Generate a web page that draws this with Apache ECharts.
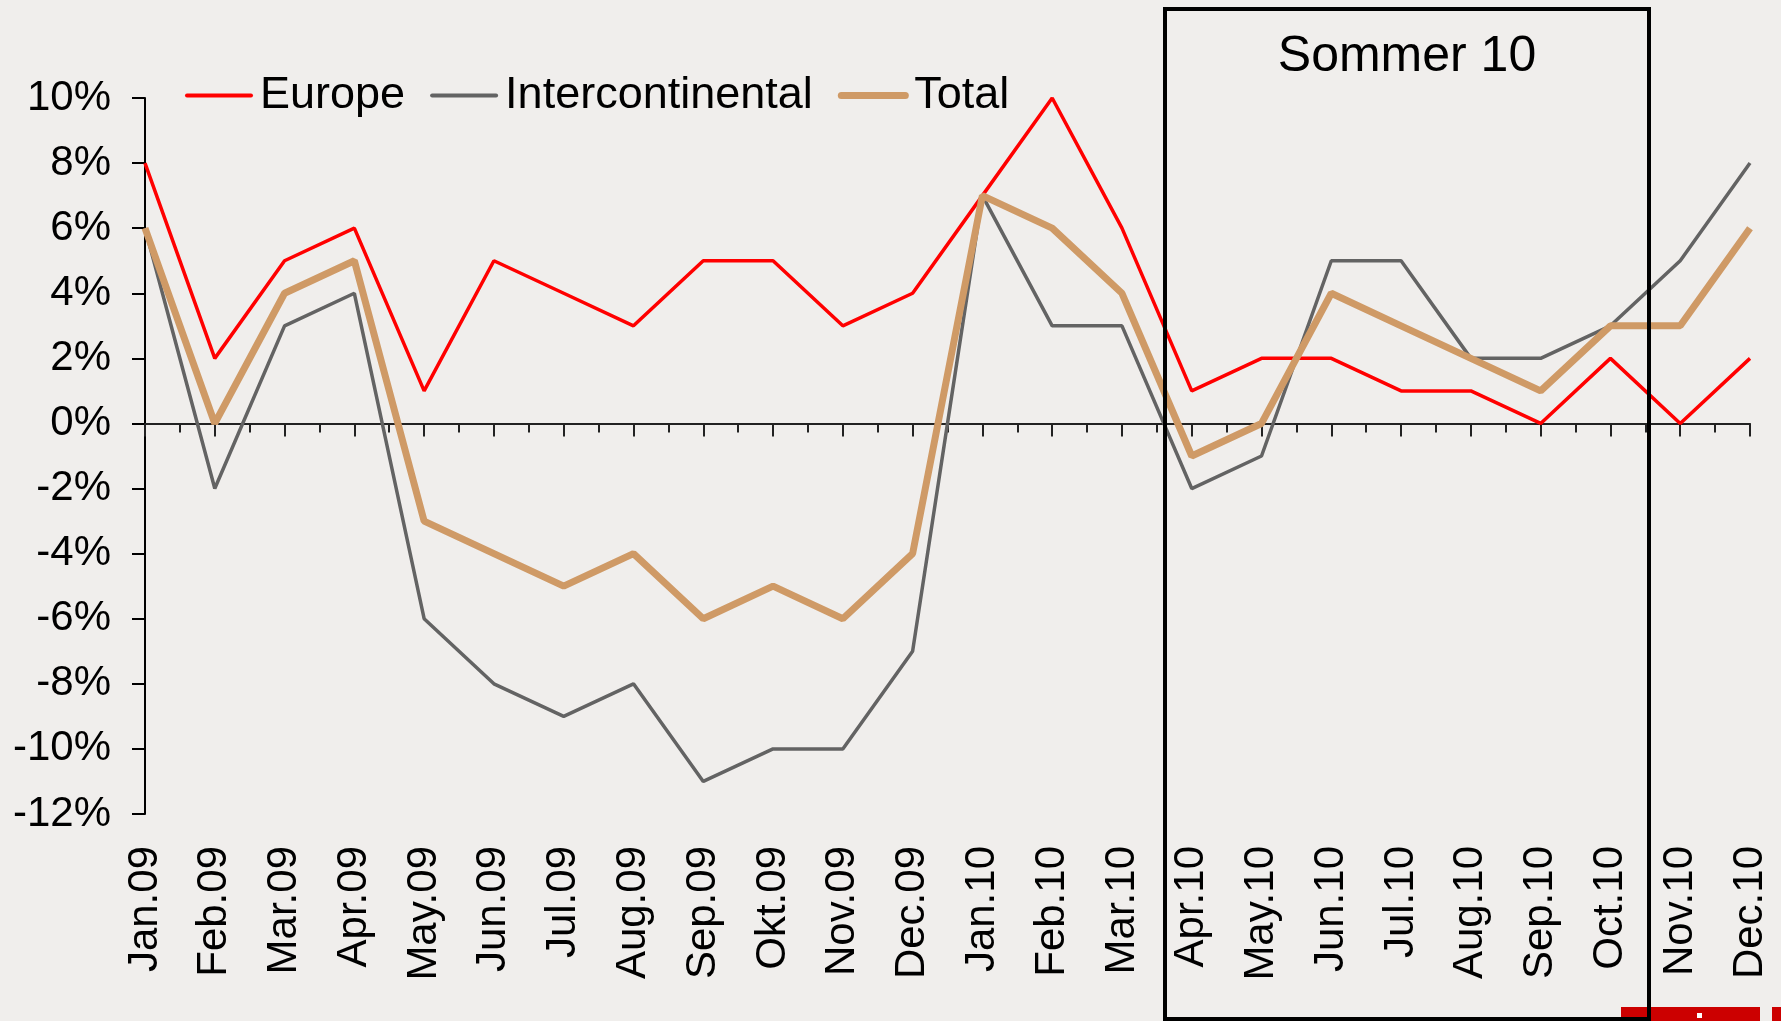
<!DOCTYPE html>
<html>
	<head>
		<meta charset="UTF-8">
		<title></title>
		<style>
			html,body{margin:0;padding:0;background:#F0EEEC;}
			#box{width:1781px;height:1021px;}
		</style>
	</head>
	<body>
		<div id="box"></div>
		<script type="text/javascript" src="https://cdn.jsdelivr.net/npm/echarts@6/dist/echarts.min.js"></script>
		<script type="text/javascript">
			// monthly change in %
			var months=['Jan.09','Feb.09','Mar.09','Apr.09','May.09','Jun.09','Jul.09','Aug.09','Sep.09','Okt.09','Nov.09','Dec.09',
				'Jan.10','Feb.10','Mar.10','Apr.10','May.10','Jun.10','Jul.10','Aug.10','Sep.10','Oct.10','Nov.10','Dec.10'];
			var europe=[8,2,5,6,1,5,4,3,5,5,3,4,7,10,6,1,2,2,1,1,0,2,0,2];
			var interc=[6,-2,3,4,-6,-8,-9,-8,-11,-10,-10,-7,7,3,3,-2,-1,5,5,2,2,3,5,8];
			var total=[6,0,4,5,-3,-4,-5,-4,-6,-5,-6,-4,7,6,4,-1,0,4,3,2,1,3,3,6];
			var yTicks=[-12,-10,-8,-6,-4,-2,0,2,4,6,8,10];
			var boxLabel='Sommer 10';

			var font='"Liberation Sans", Arial, Helvetica, sans-serif';
			var box=document.getElementById('box');
			var myechart=echarts.init(box);

			var option={
				backgroundColor:'#F0EEEC',
				textStyle:{fontFamily:font,color:'#000'},
				legend:{
					left:180,
					top:68,
					itemWidth:64,
					itemHeight:14,
					itemGap:25,
					itemStyle:{opacity:0},
					lineStyle:{cap:'round'},
					textStyle:{fontSize:45,color:'#000',fontFamily:font,padding:[0,0,0,4]},
					data:[
						{name:'Europe',lineStyle:{width:4,cap:'round'}},
						{name:'Intercontinental',lineStyle:{width:4,cap:'round'}},
						{name:'Total',lineStyle:{width:7,cap:'round'}}
					]
				},
				grid:{left:145,right:31,top:98,bottom:207,containLabel:false,outerBoundsMode:'none'},
				xAxis:[{
					type:'category',
					data:months,
					boundaryGap:false,
					position:'bottom',
					axisLine:{show:false,onZero:false},
					axisTick:{show:false},
					axisLabel:{rotate:90,fontSize:42,margin:32,color:'#000',fontFamily:font,interval:0}
				},{
					// zero line with ticks at months and half months (top slot, so inside = downward)
					type:'value',
					position:'top',
					min:0,
					max:months.length-1,
					interval:1,
					axisLine:{show:true,onZero:true,onZeroAxisIndex:0,lineStyle:{color:'#222',width:2}},
					axisTick:{show:true,inside:true,length:13,lineStyle:{color:'#222',width:2}},
					minorTick:{show:true,splitNumber:2,length:9,lineStyle:{color:'#222',width:2}},
					axisLabel:{show:false},
					splitLine:{show:false}
				}],
				yAxis:{
					type:'value',
					min:yTicks[0],
					max:yTicks[yTicks.length-1],
					interval:2,
					axisLine:{show:true,onZero:false,lineStyle:{color:'#000',width:2}},
					axisTick:{show:true,length:13,lineStyle:{color:'#000',width:2}},
					axisLabel:{fontSize:42,margin:34,color:'#000',fontFamily:font,formatter:'{value}%'},
					splitLine:{show:false}
				},
				series:[{
					name:'Europe',
					type:'line',
					data:europe,
					symbol:'none',
					itemStyle:{color:'#FF0000'},
					lineStyle:{color:'#FF0000',width:3.5}
				},{
					name:'Intercontinental',
					type:'line',
					data:interc,
					symbol:'none',
					itemStyle:{color:'#636363'},
					lineStyle:{color:'#636363',width:3.5}
				},{
					name:'Total',
					type:'line',
					data:total,
					symbol:'none',
					itemStyle:{color:'#CF9A66'},
					lineStyle:{color:'#CF9A66',width:7}
				}],
				graphic:[{
					type:'rect',
					z:100,
					shape:{x:1165,y:9,width:484,height:1010},
					style:{fill:null,stroke:'#000',lineWidth:4}
				},{
					type:'text',
					z:100,
					x:1407,
					y:57,
					style:{text:boxLabel,font:'50px '+font,fill:'#000',textAlign:'center',textVerticalAlign:'middle'}
				},{
					type:'rect',
					z:90,
					shape:{x:1621,y:1007,width:139,height:14},
					style:{fill:'#CC0000'}
				},{
					type:'rect',
					z:90,
					shape:{x:1772,y:1007,width:9,height:14},
					style:{fill:'#CC0000'}
				},{
					type:'rect',
					z:91,
					shape:{x:1697,y:1013,width:5,height:5},
					style:{fill:'#fff'}
				}]
			};

			myechart.setOption(option);
		</script>
	</body>
</html>
